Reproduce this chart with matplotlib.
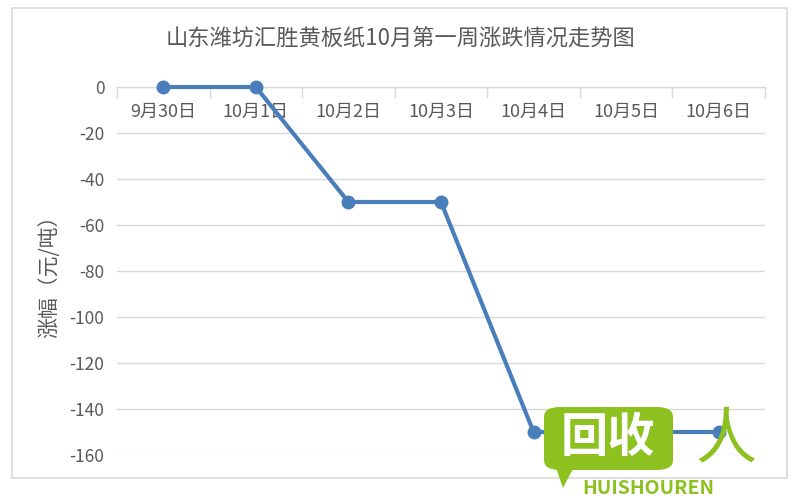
import matplotlib
matplotlib.use("Agg")
import matplotlib.pyplot as plt
from matplotlib.patches import Rectangle, FancyBboxPatch, Polygon

plt.rcParams['font.family'] = ['Noto Sans CJK SC', 'DejaVu Sans']

categories = ["9月30日", "10月1日", "10月2日", "10月3日", "10月4日", "10月5日", "10月6日"]
values = [0, 0, -50, -50, -150, -150, -150]
yticks = [0, -20, -40, -60, -80, -100, -120, -140, -160]
title = "山东潍坊汇胜黄板纸10月第一周涨跌情况走势图"
ylabel = "涨幅（元/吨）"

grey = "#595959"
line_color = "#4A7EBB"

fig = plt.figure(figsize=(8, 5), dpi=100)
fig.patch.set_facecolor("white")
# outer chart border
fig.patches.append(Rectangle((12/800, 1-478/500), (787-12)/800, (478-8)/500,
                             transform=fig.transFigure, fill=False,
                             edgecolor="#D9D9D9", linewidth=1.2))

ax = fig.add_axes([117/800, 1-455/500, (765-117)/800, (455-87)/500])
x = list(range(len(categories)))
ax.plot(x, values, color=line_color, linewidth=3, marker="o", markersize=9,
        markerfacecolor=line_color, markeredgecolor=line_color, zorder=5, clip_on=False)

ax.set_xlim(-0.5, len(categories) - 0.5)
ax.set_ylim(-160, 0)
ax.set_yticks(yticks)
ax.set_yticklabels([str(v) for v in yticks], color=grey, fontsize=12.5)
ax.tick_params(axis="y", length=0, pad=9)
ax.yaxis.grid(True, color="#D9D9D9", linewidth=1)
ax.set_axisbelow(True)

for s in ["left", "right", "bottom"]:
    ax.spines[s].set_visible(False)
ax.spines["top"].set_color("#D9D9D9")
ax.spines["top"].set_linewidth(1)

ax.xaxis.tick_top()
ax.set_xticks(x)
ax.set_xticklabels([])
ax.tick_params(axis="x", which="major", length=0)
ax.set_xticks([i - 0.5 for i in range(len(categories) + 1)], minor=True)
ax.tick_params(axis="x", which="minor", direction="in", length=8, color="#D9D9D9", width=1)
for i, c in enumerate(categories):
    ax.text(i, -11, c, ha="center", va="center", color=grey, fontsize=13)

ax.set_ylabel(ylabel, color=grey, fontsize=15, labelpad=7)
fig.text(0.5, 1-38/500, title, ha="center", va="center", color=grey, fontsize=16)

# watermark (approximate)
green = "#8CC11F"
fig.patches.append(FancyBboxPatch((544/800, 1-470/500), (673-544)/800, (470-407)/500,
                                  boxstyle="round,pad=0,rounding_size=0.02",
                                  transform=fig.transFigure, facecolor=green,
                                  edgecolor="none", zorder=10))
fig.patches.append(Polygon([(555/800, 1-465/500), (575/800, 1-465/500), (563/800, 1-488/500)],
                           closed=True, transform=fig.transFigure, facecolor=green,
                           edgecolor="none", zorder=10))
fig.text(608/800, 1-438/500, "回收", ha="center", va="center", color="white",
         fontsize=34, fontweight="bold", zorder=11)
fig.text(648/800, 1-489/500, "HUISHOUREN", ha="center", va="center", color=green,
         fontsize=14, fontweight="bold", fontstyle="italic", zorder=11)
fig.text(726/800, 1-440/500, "人", ha="center", va="center", color=green,
         fontsize=44, zorder=11)

fig.savefig("out.png", dpi=100)
